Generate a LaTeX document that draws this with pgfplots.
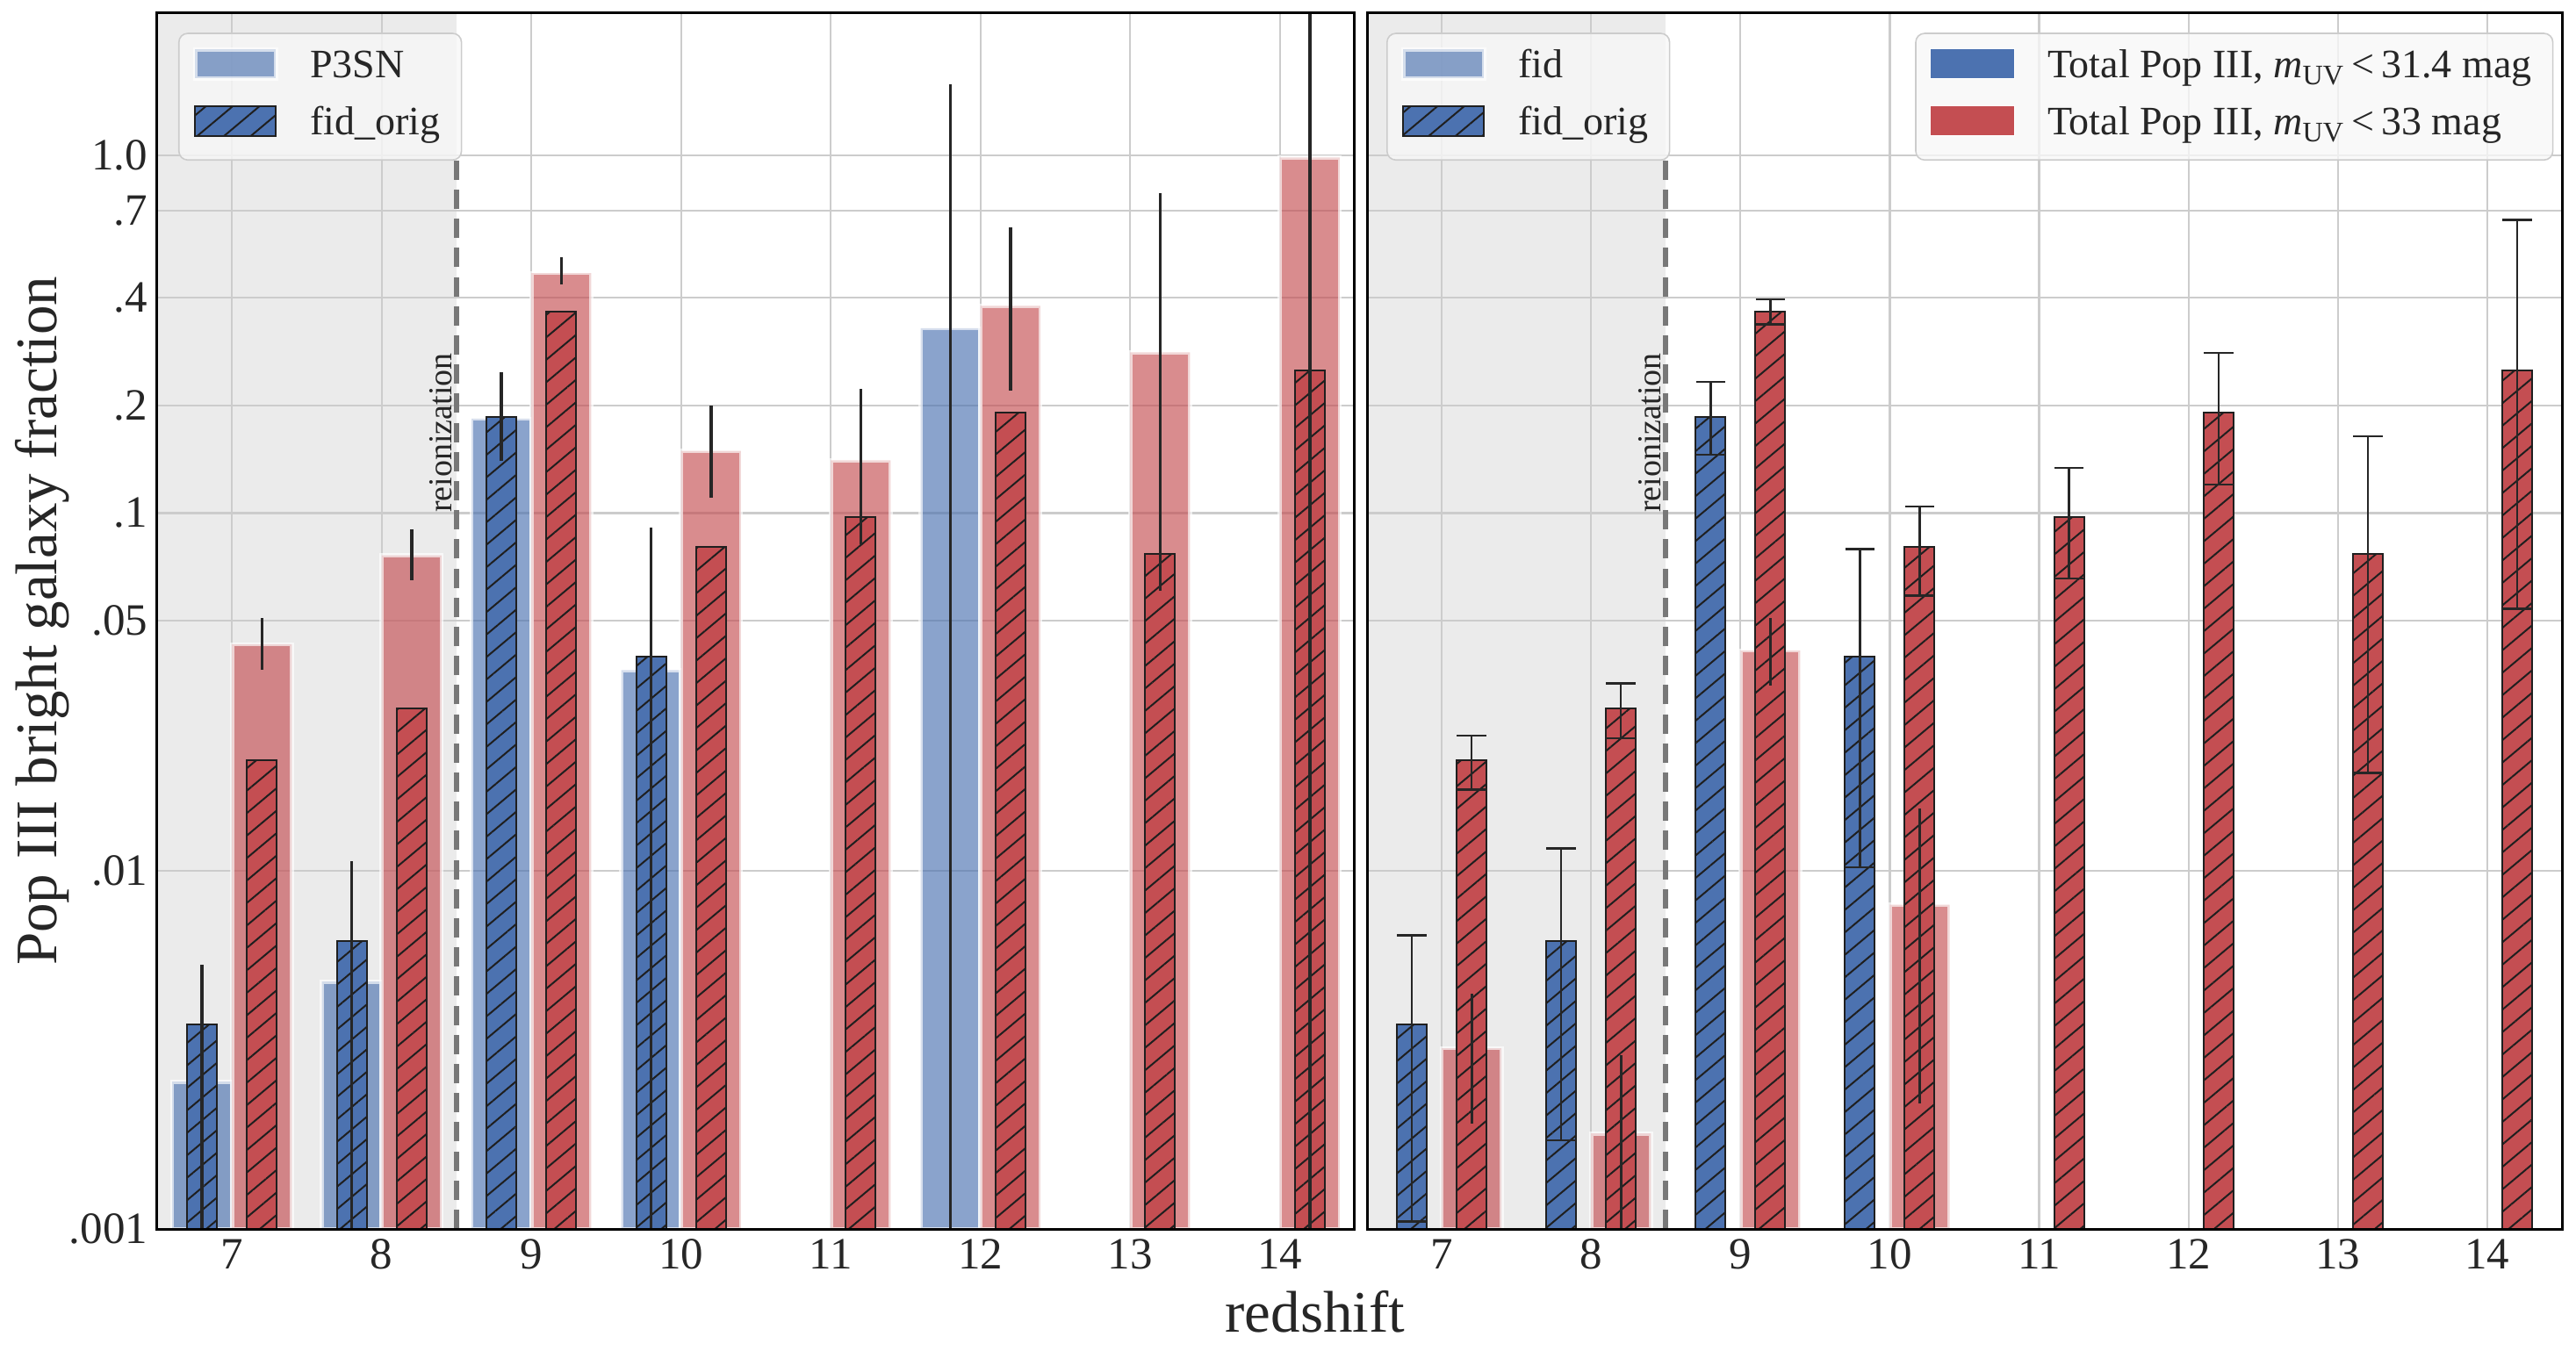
\documentclass[border=0pt]{standalone}
\usepackage{pgfplots}
\pgfplotsset{compat=1.18}
\usepackage{pgfplotstable}
\usetikzlibrary{patterns.meta}
\usepackage{fontspec}
\setmainfont{Liberation Serif}

\definecolor{sbblue}{HTML}{4C72B0}
\definecolor{sbred}{HTML}{C44E52}
\definecolor{gridgray}{HTML}{CCCCCC}
\definecolor{spangray}{HTML}{EBEBEB}
\definecolor{txt}{HTML}{262626}

% Bright Pop III fraction per redshift: value, lower and upper end of the error bar
% (a lower end of 0.0002 / upper end of 5 means the bar runs off the plot)
\pgfplotstableread{
x  y       lo      hi
7  0.00258 0.0002  0.00547
8  0.00491 0.0002  0.01068
9  0.1836  0.1396  0.247
10 0.0364  0.0002  0.0912
12 0.3284  0.0002  1.576
}\ptsnBlue
\pgfplotstableread{
x  y      lo     hi
7  0.043  0.0365 0.0508
8  0.0762 0.0651 0.0901
9  0.4684 0.4355 0.518
10 0.1492 0.1103 0.1996
11 0.1404 0.0819 0.2226
12 0.3795 0.220  0.628
13 0.2813 0.0605 0.782
14 0.985  0.0002 5.0
}\ptsnRed
\pgfplotstableread{
x  y       lo      hi
7  0.00373 0.00105 0.00662
8  0.00639 0.00177 0.01157
9  0.186   0.1457  0.2325
10 0.0398  0.01024 0.0793
}\origBlue
\pgfplotstableread{
x  y      lo      hi
7  0.0204 0.0169  0.0239
8  0.0284 0.0235  0.0334
9  0.3645 0.337   0.395
10 0.0803 0.0588  0.1043
11 0.0974 0.0656  0.1337
12 0.1906 0.1202  0.2805
13 0.0769 0.01878 0.1637
14 0.25   0.054   0.6598
}\origRed
\pgfplotstableread{
x  y       lo      hi
7  0.0032  0.00197 0.00455
8  0.00185 0.0002  0.00306
9  0.0413  0.033   0.0509
10 0.00805 0.00224 0.01494
}\fidRed

\pgfplotsset{
  lightbar/.style={ybar, bar width=0.4, fill=#1, fill opacity=0.65,
    draw=white, draw opacity=0.65, line width=1.2pt,
    legend image code/.code={\draw[##1,/tikz/.cd,sharp corners]
      (0pt,-2.9pt) rectangle (23pt,5.3pt);}},
  hatchbar/.style={ybar, bar width=0.2, fill=#1, draw=black!88, line width=0.5pt,
    postaction={pattern={Lines[angle=40,distance=4.9pt,line width=0.5pt]},
      pattern color=black!88},
    legend image code/.code={\draw[##1,/tikz/.cd,fill opacity=1,sharp corners]
      (0pt,-3.1pt) rectangle (23pt,5.4pt);}},
  errplain/.style={forget plot, draw=none, mark=none,
    error bars/y dir=both, error bars/y explicit,
    error bars/error mark=none,
    error bars/error bar style={line width=#1, txt}},
  errcap/.style={forget plot, draw=none, mark=none,
    error bars/y dir=both, error bars/y explicit,
    error bars/error mark=-,
    error bars/error bar style={line width=0.6pt, txt},
    error bars/error mark options={rotate=90, line width=0.6pt,
      mark size=4.2pt, txt}},
  legbox/.style={legend cell align=left,
    legend style={draw=black!20, line width=0.4pt, rounded corners=2.5pt,
      fill=black!3, fill opacity=0.8, draw opacity=1, text opacity=1,
      font=\fontsize{11.5}{13}\selectfont, text=txt,
      inner xsep=4pt, inner ysep=2.5pt, row sep=1.45pt,
      nodes={inner sep=2pt, text height=8.2pt, text depth=2.6pt},
      /tikz/every odd column/.append style={column sep=7.2pt}}},
  frame/.style={scale only axis, height=346.4pt,
    xmin=6.5, xmax=14.5, ymin=0.001, ymax=2.5},
  panel/.style={frame,
    log origin y=infty,
    xtick={7,8,9,10,11,12,13,14},
    xticklabels={7,8,9,10,11,12,13,14},
    ytick={0.001,0.01,0.05,0.1,0.2,0.4,0.7,1},
    xmajorgrids, ymajorgrids,
    major grid style={gridgray, line width=0.55pt},
    major tick length=0pt, minor tick length=0pt,
    axis line style={black, line width=0.75pt},
    tick label style={font=\fontsize{12.75}{14}\selectfont, text=txt},
    xticklabel style={anchor=north, inner sep=0pt, yshift=-2.75pt},
    yticklabel style={anchor=east, inner sep=0pt, xshift=-2.5pt},
    legbox,
    after end axis/.code={\draw[black, line width=0.75pt]
      (rel axis cs:0,0) rectangle (rel axis cs:1,1);},
  },
}

% the shaded pre-reionization interval, drawn below the grid
\newcommand{\reionspan}[2]{%
  \begin{axis}[ymode=log, frame, at={(#1,0pt)}, anchor=south west, width=#2, hide axis]
  \addplot[fill=spangray, draw=none]
    coordinates {(6.5,0.001) (8.5,0.001) (8.5,2.5) (6.5,2.5)} -- cycle;
  \end{axis}%
}
\newcommand{\reionline}{%
  \addplot[forget plot, black!53, line width=1.4pt, dash pattern=on 5.5pt off 2.8pt]
    coordinates {(8.5,0.001) (8.5,1)};
  \node[rotate=90, anchor=base west, inner sep=0pt,
    font=\fontsize{9.5}{11}\selectfont, text=txt]
    at (axis cs:8.465,0.1) {reionization};
}

\begin{document}
\begin{tikzpicture}
\useasboundingbox (-44.75pt,-36.5pt) rectangle (688.75pt,350pt);

\reionspan{0pt}{341pt}
\reionspan{344.5pt}{340.25pt}

% ---- left panel: P3SN vs fid_orig ----
\begin{axis}[ymode=log, panel, at={(0pt,0pt)}, anchor=south west, width=341pt,
  yticklabels={.001,.01,.05,.1,.2,.4,.7,1.0},
  ylabel={Pop III bright galaxy fraction},
  every axis y label/.style={at={(axis description cs:-0.0843,0.5)},
    rotate=90, anchor=base, font=\fontsize{16.75}{19}\selectfont, text=txt},
  xlabel={redshift},
  every axis x label/.style={at={(axis description cs:0.967,0)},
    anchor=base, yshift=-29.35pt, font=\fontsize{16.75}{19}\selectfont, text=txt},
  legend style={at={(0,1)}, anchor=north west, xshift=6pt, yshift=-5.7pt},
]
\addplot[lightbar=sbblue, bar shift=-0.2] table[x=x,y=y] {\ptsnBlue};
\addlegendentry{P3SN}
\addplot[lightbar=sbred, bar shift=0.2, forget plot] table[x=x,y=y] {\ptsnRed};
\addplot[hatchbar=sbblue, bar shift=-0.2] table[x=x,y=y] {\origBlue};
\addlegendentry{fid\_orig}
\addplot[hatchbar=sbred, bar shift=0.2, forget plot] table[x=x,y=y] {\origRed};
\addplot[errplain=0.85pt] table[x expr=\thisrow{x}-0.2, y=y,
  y error plus expr=\thisrow{hi}-\thisrow{y},
  y error minus expr=\thisrow{y}-\thisrow{lo}] {\ptsnBlue};
\addplot[errplain=0.85pt] table[x expr=\thisrow{x}+0.2, y=y,
  y error plus expr=\thisrow{hi}-\thisrow{y},
  y error minus expr=\thisrow{y}-\thisrow{lo}] {\ptsnRed};
\reionline
\end{axis}

% ---- right panel: fid vs fid_orig ----
\begin{axis}[ymode=log, panel, at={(344.5pt,0pt)}, anchor=south west, width=340.25pt,
  yticklabels={},
  legend style={at={(0,1)}, anchor=north west, xshift=5.5pt, yshift=-5.7pt},
]
\addlegendimage{lightbar=sbblue}
\addlegendentry{fid}
\addplot[lightbar=sbred, bar shift=0.2, forget plot] table[x=x,y=y] {\fidRed};
\addplot[hatchbar=sbblue, bar shift=-0.2] table[x=x,y=y] {\origBlue};
\addlegendentry{fid\_orig}
\addplot[hatchbar=sbred, bar shift=0.2, forget plot] table[x=x,y=y] {\origRed};
\addplot[errplain=0.75pt] table[x expr=\thisrow{x}+0.2, y=y,
  y error plus expr=\thisrow{hi}-\thisrow{y},
  y error minus expr=\thisrow{y}-\thisrow{lo}] {\fidRed};
\addplot[errcap] table[x expr=\thisrow{x}-0.2, y=y,
  y error plus expr=\thisrow{hi}-\thisrow{y},
  y error minus expr=\thisrow{y}-\thisrow{lo}] {\origBlue};
\addplot[errcap] table[x expr=\thisrow{x}+0.2, y=y,
  y error plus expr=\thisrow{hi}-\thisrow{y},
  y error minus expr=\thisrow{y}-\thisrow{lo}] {\origRed};
\reionline
\end{axis}

% ---- right panel: legend for the total Pop III colours ----
\begin{axis}[ymode=log, frame, at={(344.5pt,0pt)}, anchor=south west,
  width=340.25pt, hide axis, legbox,
  legend style={at={(1,1)}, anchor=north east, xshift=-2.4pt, yshift=-5.7pt},
]
\addlegendimage{legend image code/.code={\draw[fill=sbblue, fill opacity=1,
  draw=white, line width=0.3pt, sharp corners] (0pt,-2.9pt) rectangle (24pt,5.6pt);}}
\addlegendentry{Total Pop III, \textit{m}\textsubscript{UV}\,<\,31.4 mag}
\addlegendimage{legend image code/.code={\draw[fill=sbred, fill opacity=1,
  draw=white, line width=0.3pt, sharp corners] (0pt,-2.9pt) rectangle (24pt,5.6pt);}}
\addlegendentry{Total Pop III, \textit{m}\textsubscript{UV}\,<\,33 mag}
\end{axis}
\end{tikzpicture}
\end{document}
